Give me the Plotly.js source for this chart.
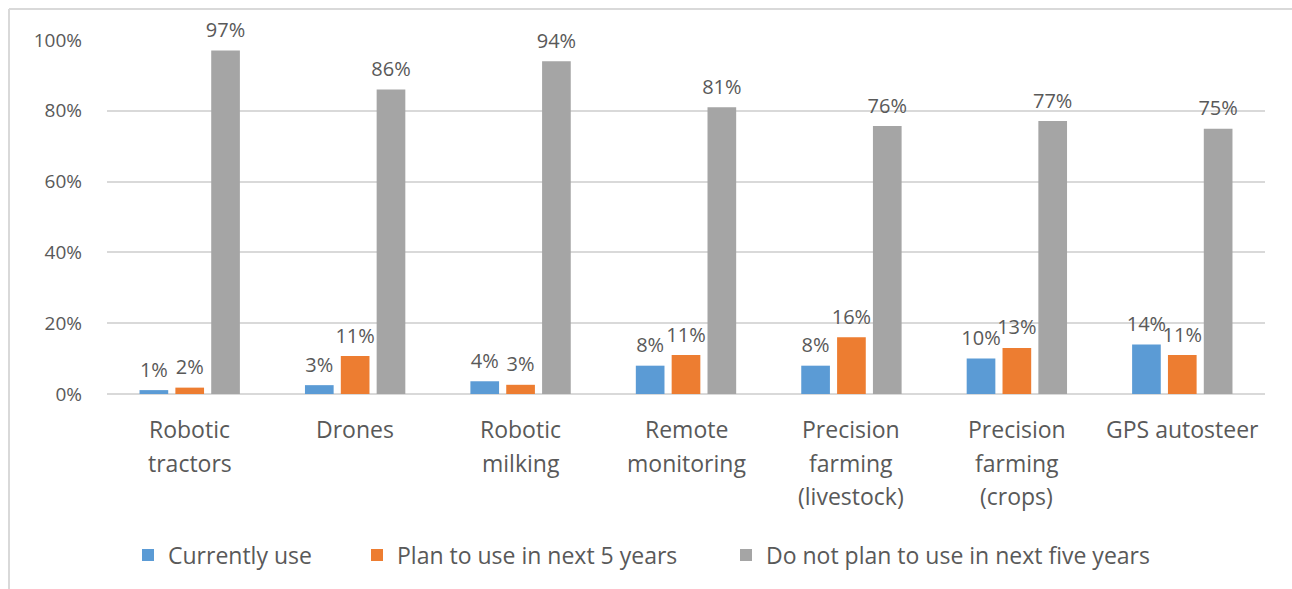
<!DOCTYPE html>
<html>
<head>
<meta charset="utf-8">
<script src="https://cdn.plot.ly/plotly-3.0.1.min.js"></script>
<style>
  html, body { margin: 0; padding: 0; background: #fff; }
  #chart { width: 1292px; height: 589px; }
</style>
</head>
<body>
<div id="chart"></div>
<script>
// ---- data ----
const categories = [
  "Robotic<br>tractors",
  "Drones",
  "Robotic<br>milking",
  "Remote<br>monitoring",
  "Precision<br>farming<br>(livestock)",
  "Precision<br>farming<br>(crops)",
  "GPS autosteer"
];
const seriesNames = [
  "Currently use",
  "Plan to use in next 5 years",
  "Do not plan to use in next five years"
];
const currentlyUse = [0.011, 0.025, 0.036, 0.08, 0.08, 0.10, 0.14];
const planToUse    = [0.018, 0.107, 0.026, 0.11, 0.16, 0.13, 0.11];
const doNotPlan    = [0.97, 0.86, 0.94, 0.81, 0.757, 0.771, 0.749];
const yTickVals  = [0, 0.2, 0.4, 0.6, 0.8, 1.0];
const yTickText  = ["0%", "20%", "40%", "60%", "80%", "100%"];

// ---- styling ----
const colors = ["#5B9BD5", "#ED7D31", "#A5A5A5"];
const txt = "#595959";
const fontFam = "'Open Sans', 'Noto Sans', sans-serif";
const catKeys = categories.map(c => c.replace(/<br>/g, " "));

const L = 107, R = 27, T = 40, B = 195, W = 1292, H = 589;
const pw = W - L - R, ph = H - T - B;
const px2x = p => (p - L) / pw;
const py2y = p => (H - B - p) / ph;

const values = [currentlyUse, planToUse, doNotPlan];
const legendIds = ["legend", "legend2", "legend3"];
const barTraces = values.map((v, i) => ({
  type: "bar",
  name: seriesNames[i],
  x: catKeys,
  y: v,
  offsetgroup: "g" + i,
  marker: { color: colors[i] },
  legend: legendIds[i],
  hoverinfo: "x+y+name"
}));
// data labels: invisible markers with text, grouped like the bars
const labelTraces = values.map((v, i) => ({
  type: "scatter",
  mode: "markers+text",
  x: catKeys,
  y: v,
  offsetgroup: "g" + i,
  marker: { size: 12, color: "rgba(0,0,0,0)" },
  texttemplate: "%{y:.0%}",
  textposition: "top center",
  textfont: { family: fontFam, size: 20, color: txt },
  cliponaxis: false,
  showlegend: false,
  hoverinfo: "skip"
}));

// category labels, one annotation per line for Excel-like line spacing
const annotations = [];
categories.forEach((c, ci) => {
  c.split("<br>").forEach((line, li) => {
    annotations.push({
      x: catKeys[ci], xref: "x",
      y: 0, yref: "y",
      yanchor: "middle",
      yshift: -35 - 33.5 * li,
      text: line,
      showarrow: false,
      font: { family: fontFam, size: 23, color: txt }
    });
  });
});

const legendFont = { family: fontFam, size: 23, color: txt };
const legendBase = (xpix) => ({
  orientation: "h",
  x: px2x(xpix), xanchor: "left",
  y: py2y(555), yanchor: "middle",
  font: legendFont,
  bgcolor: "rgba(0,0,0,0)",
  itemclick: false, itemdoubleclick: false
});

const layout = {
  width: W, height: H,
  margin: { l: L, r: R, t: T, b: B, pad: 0 },
  paper_bgcolor: "#ffffff",
  plot_bgcolor: "#ffffff",
  font: { family: fontFam, color: txt },
  barmode: "group",
  bargap: 0.35,
  bargroupgap: 0.2,
  scattermode: "group",
  scattergap: 0.35,
  showlegend: true,
  legend: legendBase(168 - 40),
  legend2: legendBase(397 - 40),
  legend3: legendBase(766 - 40),
  xaxis: {
    type: "category",
    showticklabels: false,
    showgrid: false,
    zeroline: false,
    showline: false,
    ticks: ""
  },
  yaxis: {
    range: [0, 1.0],
    tickvals: yTickVals,
    ticktext: yTickText,
    showgrid: true,
    gridcolor: "#D9D9D9",
    gridwidth: 1.5,
    zeroline: true,
    zerolinecolor: "#D9D9D9",
    zerolinewidth: 2,
    showline: false,
    ticks: "",
    ticklabelstandoff: 24,
    tickfont: { family: fontFam, size: 19, color: txt },
    fixedrange: true
  },
  annotations: annotations,
  shapes: [
    { type: "line", xref: "paper", yref: "paper",
      x0: px2x(9), x1: px2x(1292), y0: py2y(9), y1: py2y(9),
      line: { color: "#D9D9D9", width: 2 } },
    { type: "line", xref: "paper", yref: "paper",
      x0: px2x(9), x1: px2x(9), y0: py2y(9), y1: py2y(589),
      line: { color: "#D9D9D9", width: 2 } }
  ]
};

Plotly.newPlot("chart", barTraces.concat(labelTraces), layout, { displayModeBar: false, responsive: false });
</script>
</body>
</html>
